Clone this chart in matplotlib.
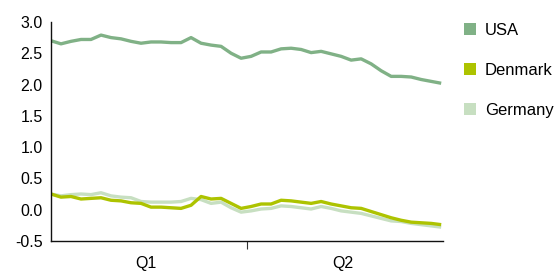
import numpy as np
import matplotlib.pyplot as plt
from matplotlib.patches import Patch

plt.rcParams['font.family'] = ['Liberation Sans', 'DejaVu Sans']

quarters = ["Q1", "Q2"]

usa = [2.70, 2.65, 2.69, 2.72, 2.72, 2.79, 2.75, 2.73, 2.69, 2.66,
       2.68, 2.68, 2.67, 2.67, 2.75, 2.66, 2.63, 2.61, 2.50, 2.42,
       2.45, 2.52, 2.52, 2.57, 2.58, 2.56, 2.51, 2.53, 2.49, 2.45,
       2.39, 2.41, 2.33, 2.22, 2.13, 2.13, 2.12, 2.08, 2.05, 2.02]

denmark = [0.25, 0.20, 0.21, 0.17, 0.18, 0.19, 0.15, 0.14, 0.11, 0.10,
           0.04, 0.04, 0.03, 0.02, 0.07, 0.21, 0.17, 0.18, 0.10, 0.02,
           0.05, 0.09, 0.09, 0.15, 0.14, 0.12, 0.10, 0.13, 0.09, 0.06,
           0.03, 0.02, -0.03, -0.08, -0.13, -0.17, -0.20, -0.21, -0.22, -0.24]

germany = [0.25, 0.22, 0.24, 0.25, 0.24, 0.27, 0.22, 0.20, 0.19, 0.13,
           0.12, 0.12, 0.12, 0.13, 0.18, 0.16, 0.10, 0.12, 0.03, -0.04,
           -0.02, 0.01, 0.02, 0.06, 0.05, 0.03, 0.01, 0.05, 0.02, -0.02,
           -0.04, -0.06, -0.10, -0.14, -0.18, -0.19, -0.22, -0.24, -0.26, -0.28]

series = [("USA", usa, "#80b186"),
          ("Denmark", denmark, "#adc300"),
          ("Germany", germany, "#c7dfc1")]

fig = plt.figure(figsize=(5.54, 2.71), dpi=100)
ax = fig.add_axes([0.092, 0.111, 0.708, 0.808])

x = np.arange(len(usa))
# back to front so the USA line sits on top
for name, vals, col in series[::-1]:
    ax.plot(x, vals, color=col, lw=2.4, solid_capstyle="butt")

xmax = len(usa) - 1 + 0.2
ax.set_xlim(0, xmax)
ax.set_ylim(-0.5, 3.0)
ax.set_yticks(np.arange(-0.5, 3.01, 0.5))
ax.set_yticklabels([f"{v:.1f}" for v in np.arange(-0.5, 3.01, 0.5)])

ax.set_xticks([xmax / 2])
ax.set_xticklabels([""])
ax.set_xticks([xmax / 4 - 0.3, 3 * xmax / 4 - 0.2], minor=True)
ax.set_xticklabels(quarters, minor=True)
ax.tick_params(axis="x", which="major", length=6, width=0.8, color="#333333")
ax.tick_params(axis="x", which="minor", length=0, pad=11, labelsize=11.5)
ax.tick_params(axis="y", length=0, pad=6, labelsize=11.5)

for s in ["top", "right"]:
    ax.spines[s].set_visible(False)
for s in ["left", "bottom"]:
    ax.spines[s].set_color("#111111")
    ax.spines[s].set_linewidth(1.0)

handles = [Patch(facecolor=c, edgecolor="none", label=n) for n, v, c in series]
fig.legend(handles=handles, loc="upper left", bbox_to_anchor=(0.825, 0.94),
           frameon=False, fontsize=12, handlelength=0.72, handleheight=0.72,
           labelspacing=1.5, handletextpad=0.55, borderaxespad=0)

fig.savefig("out.png", dpi=100)
